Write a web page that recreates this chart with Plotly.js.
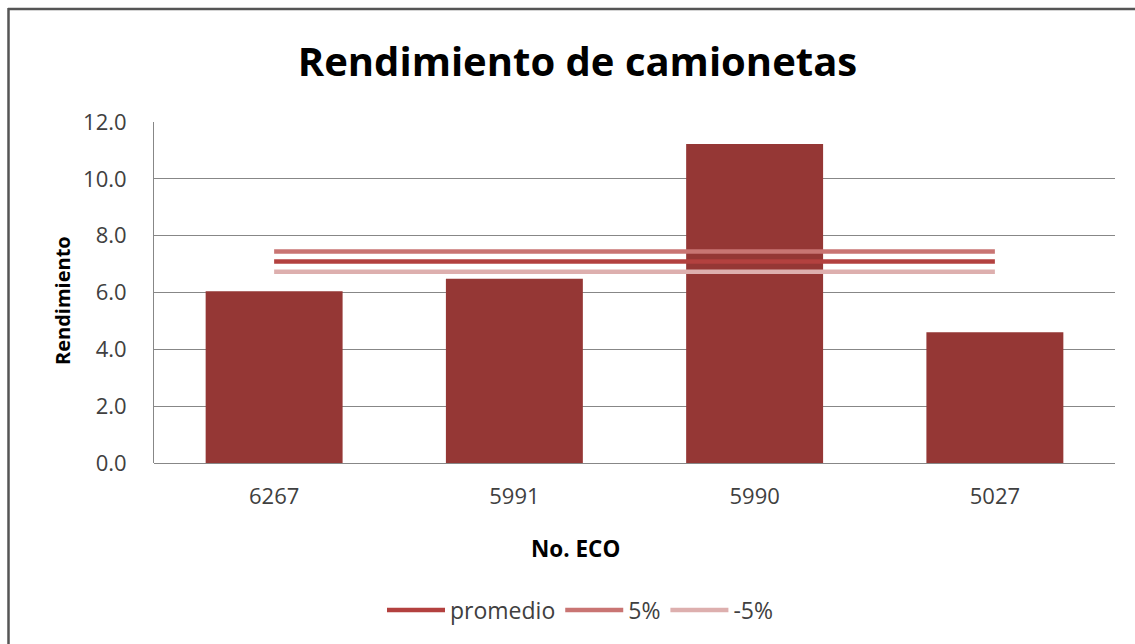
<!DOCTYPE html>
<html>
<head>
<meta charset="utf-8">
<script src="https://cdn.plot.ly/plotly-3.0.1.min.js"></script>
<style>html,body{margin:0;padding:0;background:#fff;}#chart{width:1135px;height:644px;}</style>
</head>
<body>
<div id="chart"></div>
<script>
const categories = ["6267", "5991", "5990", "5027"];
const rendimiento = [6.04, 6.48, 11.23, 4.60];
const promedio = [7.09, 7.09, 7.09, 7.09];
const plus5 = [7.44, 7.44, 7.44, 7.44];
const minus5 = [6.73, 6.73, 6.73, 6.73];
const yTickVals = [0, 2, 4, 6, 8, 10, 12];
const yTickText = ["0.0", "2.0", "4.0", "6.0", "8.0", "10.0", "12.0"];

const W = 1135, H = 644;
const M = {l: 154, r: 20, t: 122, b: 181};
const pw = W - M.l - M.r, ph = H - M.t - M.b;
const px2x = p => (p - M.l) / pw;
const py2y = p => (H - M.b - p) / ph;

const FONT = "Open Sans, Liberation Sans, sans-serif";

const traces = [
  {type: "bar", x: categories, y: rendimiento, name: "Rendimiento", showlegend: false,
   marker: {color: "#953735", line: {width: 0}}, hoverinfo: "x+y"},
  {type: "scatter", mode: "lines", x: categories, y: promedio, name: "promedio",
   line: {color: "#B3413F", width: 4.5}},
  {type: "scatter", mode: "lines", x: categories, y: plus5, name: "5%",
   line: {color: "#C97573", width: 4.5}},
  {type: "scatter", mode: "lines", x: categories, y: minus5, name: "-5%",
   line: {color: "#DDAFAE", width: 4.5}}
];

const layout = {
  width: W, height: H,
  margin: M,
  paper_bgcolor: "#fff", plot_bgcolor: "#fff",
  font: {family: FONT, color: "#404040"},
  bargap: 0.43,
  title: {text: "Rendimiento de camionetas", font: {family: FONT, size: 40, color: "#000", weight: "bold"},
          x: 577.5 / W, xref: "container", xanchor: "center", y: 1 - 62 / H, yref: "container", yanchor: "middle"},
  xaxis: {type: "category", showgrid: false, showline: false, zeroline: false,
          ticks: "", tickfont: {size: 22, color: "#404040"}, ticklabelstandoff: 18},
  yaxis: {range: [0, 12], tickvals: yTickVals, ticktext: yTickText, showgrid: true,
          gridcolor: "#878787", gridwidth: 1, showline: true, linecolor: "#878787", linewidth: 1,
          zeroline: true, zerolinecolor: "#878787", zerolinewidth: 1,
          ticks: "", tickfont: {size: 22, color: "#404040"}, ticklabelstandoff: 22},
  annotations: [
    {text: "No. ECO", xref: "paper", yref: "paper", x: px2x(575), y: py2y(548),
     xanchor: "center", yanchor: "middle", showarrow: false,
     font: {family: FONT, size: 22.5, color: "#000", weight: "bold"}},
    {text: "Rendimiento", xref: "paper", yref: "paper", x: px2x(62), y: py2y(301),
     xanchor: "center", yanchor: "middle", showarrow: false, textangle: -90,
     font: {family: FONT, size: 20, color: "#000", weight: "bold"}}
  ],
  showlegend: true,
  legend: {orientation: "h", x: px2x(580), xanchor: "center", y: py2y(610), yanchor: "middle",
           font: {size: 23, color: "#404040"}, itemwidth: 58, tracegroupgap: 0},
  shapes: [
    {type: "line", xref: "paper", yref: "paper", x0: px2x(8), x1: px2x(W + 2), y0: py2y(9), y1: py2y(9),
     line: {color: "#555", width: 2.5}, layer: "above"},
    {type: "line", xref: "paper", yref: "paper", x0: px2x(8.5), x1: px2x(8.5), y0: py2y(8), y1: py2y(H + 2),
     line: {color: "#555", width: 2.5}, layer: "above"}
  ]
};

Plotly.newPlot("chart", traces, layout, {displayModeBar: false, staticPlot: true});
</script>
</body>
</html>
